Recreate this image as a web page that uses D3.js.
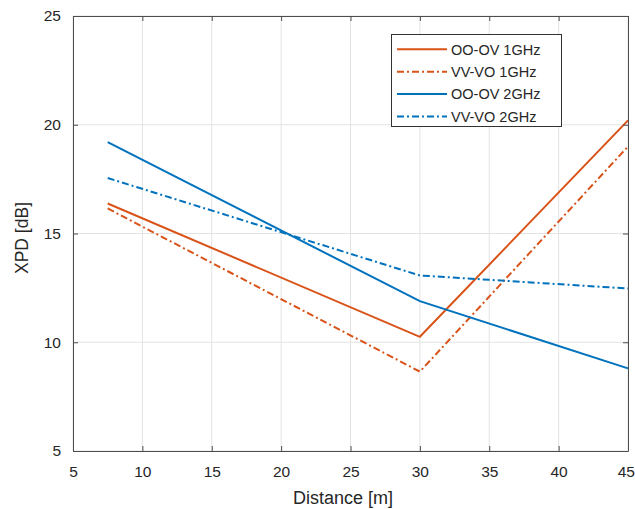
<!DOCTYPE html>
<html><head><meta charset="utf-8">
<script src="https://cdn.jsdelivr.net/npm/d3@7"></script>
<style>body{margin:0;background:#fff}svg{display:block}text{font-family:"Liberation Sans",Arial,sans-serif;fill:#262626}</style>
</head><body>
<svg id="c" width="635" height="509"></svg>
<script>
const distances = [7.5, 30, 45];
const seriesNames = ["OO-OV 1GHz", "VV-VO 1GHz", "OO-OV 2GHz", "VV-VO 2GHz"];
const ooov1 = [16.38, 10.25, 20.2];
const vvvo1 = [16.15, 8.65, 19.0];
const ooov2 = [19.2, 11.89, 8.8];
const vvvo2 = [17.55, 13.07, 12.47];
const xTicks = [5, 10, 15, 20, 25, 30, 35, 40, 45];
const yTicks = [5, 10, 15, 20, 25];
const colors = ["#D95319", "#D95319", "#0072BD", "#0072BD"];
const dashed = [false, true, false, true];
const allSeries = [ooov1, vvvo1, ooov2, vvvo2];

const svg = d3.select("#c");
const L = 73, R = 628, T = 16, B = 451;
const x = d3.scaleLinear().domain([5, 45]).range([L, R]);
const y = d3.scaleLinear().domain([5, 25]).range([B, T]);
const axisCol = "#4d4d4d";

// grid
const g = svg.append("g");
g.selectAll(".vg").data(xTicks).enter().append("line")
  .attr("x1", d => x(d)).attr("x2", d => x(d)).attr("y1", T).attr("y2", B)
  .attr("stroke", "#e3e3e3").attr("stroke-width", 1);
g.selectAll(".hg").data(yTicks).enter().append("line")
  .attr("x1", L).attr("x2", R).attr("y1", d => y(d)).attr("y2", d => y(d))
  .attr("stroke", "#e3e3e3").attr("stroke-width", 1);

// series
const line = d3.line().x((d, i) => x(distances[i])).y(d => y(d));
allSeries.forEach((s, k) => {
  svg.append("path").datum(s).attr("d", line)
    .attr("fill", "none").attr("stroke", colors[k]).attr("stroke-width", 2)
    .attr("stroke-dasharray", dashed[k] ? "7,3,2,3" : null);
});

// axes
const ax = (gen, tr) => {
  const a = svg.append("g").attr("transform", tr).call(gen);
  a.select(".domain").attr("stroke", axisCol);
  a.selectAll(".tick line").attr("stroke", axisCol);
  a.selectAll("text").style("font-size", "15.5px").attr("fill", "#262626");
  return a;
};
const xb = ax(d3.axisBottom(x).tickValues(xTicks).tickSize(-5).tickSizeOuter(0).tickPadding(15), `translate(0,${B})`);
// keep the last label inside the window
xb.selectAll(".tick text").filter(d => d === 45).attr("text-anchor", "end").attr("x", 6.5);
ax(d3.axisTop(x).tickValues(xTicks).tickSize(-5).tickSizeOuter(0).tickFormat(""), `translate(0,${T})`);
ax(d3.axisLeft(y).tickValues(yTicks).tickSize(-5).tickSizeOuter(0).tickPadding(12), `translate(${L},0)`);
ax(d3.axisRight(y).tickValues(yTicks).tickSize(-5).tickSizeOuter(0).tickFormat(""), `translate(${R},0)`);

// labels
svg.append("text").attr("x", 343).attr("y", 504).attr("text-anchor", "middle")
  .style("font-size", "18px").text("Distance [m]");
svg.append("text").attr("transform", "translate(28,238) rotate(-90)").attr("text-anchor", "middle")
  .style("font-size", "17.5px").text("XPD [dB]");

// legend
const lg = svg.append("g");
lg.append("rect").attr("x", 391.5).attr("y", 34.5).attr("width", 170).attr("height", 92)
  .attr("fill", "#fff").attr("stroke", "#333").attr("stroke-width", 1);
seriesNames.forEach((n, i) => {
  const cy = 49.3 + i * 22.4;
  lg.append("line").attr("x1", 397).attr("x2", 447).attr("y1", cy).attr("y2", cy)
    .attr("stroke", colors[i]).attr("stroke-width", 2)
    .attr("stroke-dasharray", dashed[i] ? "7,3,2,3" : null);
  lg.append("text").attr("x", 451).attr("y", cy + 5.3).style("font-size", "14.5px").text(n);
});
</script>
</body></html>
